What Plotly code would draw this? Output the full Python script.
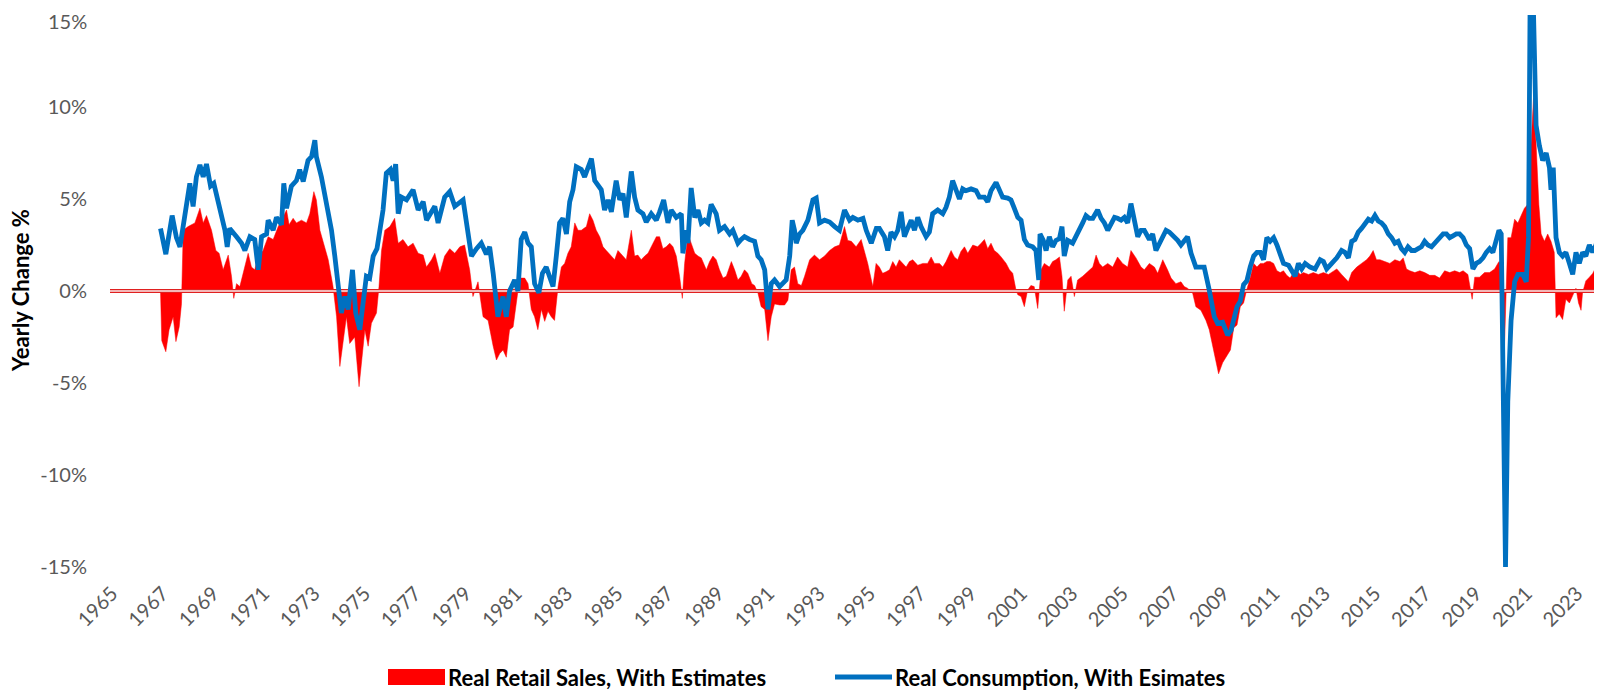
import plotly.graph_objects as go

# ---------------- data ----------------
cons_year = [
    1967.00, 1967.21, 1967.46, 1967.63, 1967.77, 1967.96, 1968.16, 1968.29, 1968.42, 1968.56,
    1968.69, 1968.82, 1968.98, 1969.11, 1969.35, 1969.55, 1969.64, 1969.74, 1970.01, 1970.21,
    1970.34, 1970.54, 1970.73, 1970.87, 1971.00, 1971.20, 1971.26, 1971.46, 1971.59, 1971.79,
    1971.88, 1971.99, 1972.18, 1972.38, 1972.51, 1972.65, 1972.84, 1972.98, 1973.11, 1973.17,
    1973.37, 1973.57, 1973.77, 1973.90, 1974.03, 1974.16, 1974.30, 1974.43, 1974.60, 1974.73,
    1974.89, 1975.02, 1975.15, 1975.28, 1975.42, 1975.57, 1975.68, 1975.81, 1975.94, 1976.10,
    1976.21, 1976.31, 1976.41, 1976.54, 1976.74, 1977.00, 1977.20, 1977.40, 1977.53, 1977.86,
    1977.99, 1978.25, 1978.45, 1978.65, 1978.98, 1979.11, 1979.31, 1979.51, 1979.70, 1979.90,
    1980.03, 1980.17, 1980.36, 1980.56, 1980.69, 1980.82, 1981.02, 1981.15, 1981.28, 1981.42,
    1981.55, 1981.68, 1981.81, 1981.98, 1982.12, 1982.27, 1982.41, 1982.54, 1982.67, 1982.80,
    1982.93, 1983.07, 1983.20, 1983.33, 1983.46, 1983.66, 1983.79, 1983.92, 1984.06, 1984.19,
    1984.32, 1984.45, 1984.58, 1984.72, 1984.85, 1985.04, 1985.18, 1985.31, 1985.44, 1985.64,
    1985.77, 1985.90, 1986.10, 1986.23, 1986.43, 1986.63, 1986.76, 1986.92, 1987.09, 1987.22,
    1987.42, 1987.62, 1987.68, 1987.82, 1987.88, 1988.01, 1988.15, 1988.28, 1988.41, 1988.54,
    1988.67, 1988.80, 1989.00, 1989.13, 1989.33, 1989.53, 1989.66, 1989.86, 1989.99, 1990.12,
    1990.32, 1990.52, 1990.65, 1990.78, 1990.92, 1991.05, 1991.18, 1991.31, 1991.51, 1991.64,
    1991.77, 1991.91, 1992.01, 1992.10, 1992.17, 1992.30, 1992.43, 1992.63, 1992.83, 1992.96,
    1993.09, 1993.29, 1993.49, 1993.69, 1993.88, 1994.08, 1994.28, 1994.41, 1994.61, 1994.81,
    1994.94, 1995.14, 1995.34, 1995.46, 1995.66, 1995.79, 1995.92, 1996.06, 1996.19, 1996.32,
    1996.45, 1996.58, 1996.72, 1996.85, 1996.98, 1997.11, 1997.31, 1997.44, 1997.57, 1997.77,
    1997.97, 1998.10, 1998.23, 1998.36, 1998.50, 1998.63, 1998.76, 1998.89, 1999.09, 1999.29,
    1999.42, 1999.62, 1999.75, 1999.88, 2000.08, 2000.21, 2000.34, 2000.54, 2000.67, 2000.80,
    2000.94, 2001.07, 2001.20, 2001.33, 2001.53, 2001.66, 2001.77, 2001.82, 2001.95, 2002.06,
    2002.19, 2002.32, 2002.45, 2002.59, 2002.69, 2002.78, 2002.92, 2003.11, 2003.25, 2003.38,
    2003.51, 2003.64, 2003.77, 2003.91, 2004.10, 2004.24, 2004.37, 2004.50, 2004.63, 2004.77,
    2004.89, 2005.03, 2005.16, 2005.29, 2005.42, 2005.55, 2005.69, 2005.82, 2005.95, 2006.15,
    2006.28, 2006.41, 2006.54, 2006.68, 2006.81, 2006.94, 2007.14, 2007.27, 2007.40, 2007.53,
    2007.66, 2007.80, 2007.99, 2008.13, 2008.32, 2008.52, 2008.72, 2008.85, 2009.05, 2009.25,
    2009.38, 2009.62, 2009.75, 2009.88, 2010.01, 2010.14, 2010.28, 2010.41, 2010.54, 2010.67,
    2010.80, 2010.93, 2011.07, 2011.20, 2011.33, 2011.46, 2011.66, 2011.79, 2011.92, 2012.05,
    2012.18, 2012.32, 2012.51, 2012.71, 2012.91, 2013.04, 2013.17, 2013.37, 2013.57, 2013.76,
    2013.89, 2014.03, 2014.16, 2014.29, 2014.42, 2014.55, 2014.68, 2014.82, 2014.95, 2015.08,
    2015.21, 2015.34, 2015.47, 2015.61, 2015.74, 2015.87, 2016.00, 2016.13, 2016.26, 2016.39,
    2016.53, 2016.66, 2016.79, 2016.92, 2017.05, 2017.18, 2017.32, 2017.45, 2017.64, 2017.78,
    2017.91, 2018.04, 2018.17, 2018.30, 2018.43, 2018.57, 2018.70, 2018.83, 2018.96, 2019.09,
    2019.22, 2019.36, 2019.49, 2019.62, 2019.75, 2019.88, 2019.99, 2020.08, 2020.14, 2020.25,
    2020.34, 2020.47, 2020.61, 2020.74, 2020.93, 2021.07, 2021.16, 2021.22, 2021.36, 2021.46,
    2021.59, 2021.72, 2021.86, 2021.99, 2022.05, 2022.14, 2022.25, 2022.38, 2022.51, 2022.64,
    2022.78, 2022.91, 2023.04, 2023.17, 2023.30, 2023.43, 2023.57, 2023.70, 2023.83, 2023.96,
    2024.07,
]
cons_pct = [
    3.4, 2.0, 4.1, 2.9, 2.4, 3.9, 5.85, 4.6, 6.2, 6.85,
    6.2, 6.9, 5.7, 5.85, 4.4, 3.3, 2.4, 3.4, 2.95, 2.6,
    2.2, 2.95, 2.8, 1.15, 2.95, 3.1, 3.85, 3.3, 4.0, 3.6,
    5.85, 4.5, 5.7, 6.0, 6.6, 5.95, 7.1, 7.3, 8.2, 7.3,
    6.2, 4.9, 3.3, 1.9, 0.24, -1.2, -0.3, -1.0, 1.15, -1.2,
    -2.1, -0.5, 0.8, 0.7, 1.9, 2.3, 3.5, 4.4, 6.4, 6.6,
    6.0, 6.9, 4.2, 5.1, 4.95, 5.5, 4.4, 4.85, 3.85, 4.6,
    3.7, 5.1, 5.4, 4.6, 4.95, 3.85, 1.9, 2.3, 2.6, 2.0,
    2.4, 0.96, -1.4, -0.3, -1.4, 0.0, 0.6, 0.0, 2.8, 3.2,
    2.6, 2.4, 0.4, -0.1, 0.96, 1.3, 0.8, 0.24, 1.9, 3.7,
    3.95, 3.1, 4.85, 5.5, 6.75, 6.6, 6.2, 6.75, 7.2, 6.0,
    5.75, 5.5, 4.4, 4.95, 4.3, 6.0, 4.95, 5.3, 4.0, 6.5,
    5.1, 4.4, 4.2, 3.75, 4.2, 3.85, 4.3, 4.95, 3.7, 4.4,
    4.0, 4.2, 2.05, 3.3, 2.6, 5.6, 4.0, 4.4, 3.7, 3.85,
    3.7, 4.7, 4.2, 3.3, 3.5, 3.1, 3.3, 2.6, 2.8, 2.95,
    2.8, 2.7, 1.9, 1.7, 1.15, -1.0, 0.4, 0.6, 0.24, 0.4,
    0.6, 1.9, 3.85, 3.3, 2.6, 3.1, 3.3, 3.85, 4.95, 5.05,
    3.7, 3.85, 3.75, 3.5, 3.3, 4.4, 3.85, 4.0, 3.85, 3.95,
    3.3, 2.6, 3.4, 3.4, 2.95, 2.2, 3.2, 2.95, 3.3, 4.3,
    2.95, 3.4, 3.85, 3.3, 4.0, 3.5, 2.95, 3.2, 4.2, 4.4,
    4.2, 4.55, 5.1, 6.0, 5.55, 5.0, 5.55, 5.45, 5.55, 5.45,
    5.1, 5.1, 4.85, 5.45, 5.9, 5.5, 5.1, 5.05, 4.95, 4.5,
    4.0, 3.85, 2.8, 2.5, 2.4, 2.2, 0.6, 3.1, 2.75, 2.2,
    2.95, 2.4, 2.75, 2.85, 3.5, 1.9, 2.75, 2.6, 2.95, 3.3,
    3.7, 4.1, 3.95, 3.95, 4.4, 3.95, 3.7, 3.3, 3.7, 4.0,
    3.95, 3.85, 4.0, 3.7, 4.75, 3.85, 2.95, 3.3, 3.3, 2.8,
    3.1, 2.2, 2.6, 2.95, 3.3, 3.2, 2.95, 2.75, 2.5, 2.75,
    2.95, 2.05, 1.3, 1.3, 1.3, 0.05, -1.4, -1.75, -1.7, -2.4,
    -2.15, -0.85, -0.55, 0.35, 0.55, 1.3, 1.9, 2.1, 2.1, 1.7,
    2.9, 2.7, 2.9, 2.5, 1.9, 1.5, 1.4, 1.1, 0.8, 1.5,
    1.2, 1.5, 1.3, 1.2, 1.7, 1.6, 1.2, 1.5, 1.8, 2.2,
    2.1, 1.8, 2.7, 2.8, 3.2, 3.4, 3.6, 3.9, 3.8, 4.1,
    3.8, 3.7, 3.5, 3.1, 2.9, 2.6, 2.7, 2.3, 2.1, 2.4,
    2.2, 2.2, 2.3, 2.4, 2.7, 2.5, 2.4, 2.6, 2.9, 3.1,
    3.1, 2.9, 3.0, 3.1, 3.1, 2.9, 2.5, 2.3, 1.2, 1.5,
    1.6, 1.8, 2.1, 2.3, 2.1, 2.7, 3.3, 3.1, -2.0, -15.0,
    -6.0, -1.6, 0.5, 0.9, 0.9, 0.5, 2.9, 15.0, 15.0, 9.0,
    7.9, 7.1, 7.5, 6.7, 5.5, 6.7, 2.9, 2.1, 1.9, 2.1,
    1.5, 0.9, 2.1, 1.5, 2.1, 1.9, 2.5, 2.1, 2.5, 3.1,
    3.3,
]

retail_year = [
    1967.00, 1967.05, 1967.21, 1967.34, 1967.50, 1967.61, 1967.74, 1967.83, 1967.90, 1968.09,
    1968.36, 1968.56, 1968.69, 1968.82, 1969.02, 1969.19, 1969.32, 1969.48, 1969.68, 1969.81,
    1969.90, 1970.01, 1970.14, 1970.27, 1970.47, 1970.60, 1970.73, 1970.87, 1971.06, 1971.26,
    1971.46, 1971.66, 1971.85, 1971.99, 1972.09, 1972.25, 1972.38, 1972.58, 1972.78, 1972.91,
    1973.07, 1973.17, 1973.31, 1973.50, 1973.64, 1973.83, 1973.97, 1974.10, 1974.23, 1974.36,
    1974.49, 1974.69, 1974.86, 1974.96, 1975.09, 1975.22, 1975.35, 1975.55, 1975.65, 1975.75,
    1975.88, 1976.08, 1976.27, 1976.41, 1976.60, 1976.80, 1977.00, 1977.20, 1977.40, 1977.53,
    1977.73, 1977.86, 1978.06, 1978.25, 1978.45, 1978.65, 1978.85, 1979.04, 1979.24, 1979.37,
    1979.57, 1979.77, 1979.97, 1980.17, 1980.30, 1980.43, 1980.56, 1980.69, 1980.82, 1980.96,
    1981.09, 1981.22, 1981.42, 1981.55, 1981.68, 1981.81, 1981.94, 1982.08, 1982.21, 1982.34,
    1982.47, 1982.60, 1982.74, 1982.87, 1983.00, 1983.13, 1983.26, 1983.40, 1983.53, 1983.66,
    1983.86, 1983.99, 1984.12, 1984.25, 1984.39, 1984.52, 1984.65, 1984.85, 1984.98, 1985.11,
    1985.31, 1985.44, 1985.64, 1985.77, 1985.90, 1986.03, 1986.17, 1986.30, 1986.50, 1986.63,
    1986.76, 1986.89, 1987.02, 1987.16, 1987.29, 1987.42, 1987.55, 1987.66, 1987.75, 1987.88,
    1988.01, 1988.15, 1988.28, 1988.41, 1988.61, 1988.74, 1988.87, 1989.00, 1989.13, 1989.27,
    1989.40, 1989.60, 1989.73, 1989.86, 1989.99, 1990.12, 1990.25, 1990.41, 1990.52, 1990.65,
    1990.78, 1990.92, 1991.05, 1991.18, 1991.31, 1991.51, 1991.71, 1991.84, 1991.97, 1992.10,
    1992.23, 1992.37, 1992.50, 1992.70, 1992.89, 1993.09, 1993.29, 1993.49, 1993.69, 1993.88,
    1994.08, 1994.21, 1994.35, 1994.54, 1994.74, 1994.87, 1995.00, 1995.20, 1995.33, 1995.46,
    1995.59, 1995.73, 1995.86, 1995.99, 1996.12, 1996.25, 1996.39, 1996.52, 1996.65, 1996.78,
    1996.98, 1997.18, 1997.37, 1997.51, 1997.64, 1997.84, 1997.97, 1998.10, 1998.30, 1998.43,
    1998.56, 1998.69, 1998.83, 1998.96, 1999.16, 1999.35, 1999.49, 1999.62, 1999.75, 1999.88,
    2000.01, 2000.15, 2000.28, 2000.48, 2000.61, 2000.74, 2000.87, 2000.94, 2001.07, 2001.20,
    2001.33, 2001.46, 2001.59, 2001.73, 2001.86, 2001.99, 2002.19, 2002.32, 2002.45, 2002.59,
    2002.69, 2002.78, 2002.92, 2003.05, 2003.18, 2003.31, 2003.51, 2003.64, 2003.77, 2003.91,
    2004.04, 2004.17, 2004.30, 2004.50, 2004.70, 2004.89, 2005.09, 2005.29, 2005.42, 2005.62,
    2005.82, 2005.95, 2006.15, 2006.35, 2006.48, 2006.68, 2006.87, 2007.01, 2007.20, 2007.40,
    2007.53, 2007.66, 2007.86, 2007.99, 2008.19, 2008.39, 2008.52, 2008.65, 2008.79, 2008.89,
    2009.05, 2009.18, 2009.36, 2009.49, 2009.62, 2009.75, 2009.88, 2010.01, 2010.14, 2010.28,
    2010.41, 2010.54, 2010.67, 2010.80, 2010.93, 2011.07, 2011.20, 2011.33, 2011.46, 2011.59,
    2011.72, 2011.86, 2011.99, 2012.12, 2012.25, 2012.45, 2012.64, 2012.84, 2013.04, 2013.24,
    2013.43, 2013.57, 2013.76, 2013.89, 2014.03, 2014.16, 2014.36, 2014.55, 2014.75, 2014.88,
    2015.01, 2015.14, 2015.28, 2015.47, 2015.67, 2015.87, 2016.07, 2016.20, 2016.33, 2016.46,
    2016.66, 2016.86, 2017.05, 2017.25, 2017.45, 2017.64, 2017.84, 2018.04, 2018.24, 2018.43,
    2018.57, 2018.76, 2018.93, 2019.03, 2019.22, 2019.42, 2019.62, 2019.82, 2019.99, 2020.08,
    2020.14, 2020.21, 2020.34, 2020.47, 2020.61, 2020.74, 2020.87, 2021.00, 2021.13, 2021.26,
    2021.36, 2021.46, 2021.57, 2021.66, 2021.79, 2021.92, 2022.05, 2022.18, 2022.25, 2022.38,
    2022.51, 2022.64, 2022.78, 2022.91, 2023.04, 2023.14, 2023.24, 2023.30, 2023.43, 2023.57,
    2023.70, 2023.83, 2023.96, 2024.07,
]
retail_pct = [
    0.0, -2.7, -3.3, -2.1, -1.4, -2.75, -1.95, -0.7, 3.3, 3.5,
    3.7, 4.5, 3.7, 4.1, 3.3, 2.2, 2.05, 1.15, 1.95, 0.8,
    -0.4, 0.4, 0.24, 0.96, 2.05, 1.3, 1.15, 1.9, 2.2, 2.95,
    2.8, 3.5, 4.0, 4.4, 3.6, 3.95, 3.7, 3.85, 3.7, 4.2,
    5.4, 4.95, 3.3, 2.4, 1.7, 0.24, -1.4, -4.1, -2.85, -1.4,
    -2.85, -2.5, -5.2, -3.9, -2.1, -3.0, -1.75, -1.2, 0.24, 2.2,
    3.3, 3.5, 3.95, 2.6, 2.8, 2.4, 2.6, 2.05, 1.95, 1.3,
    1.7, 2.05, 0.96, 1.9, 2.3, 2.05, 2.4, 2.5, 1.15, -0.3,
    0.5, -1.4, -1.6, -3.0, -3.75, -3.4, -3.2, -3.6, -2.1, -1.95,
    -0.5, 0.7, 0.7, 0.4, -1.0, -1.4, -2.1, -1.0, -1.65, -1.1,
    -1.4, -1.6, 0.24, 1.3, 1.5, 2.05, 2.4, 3.7, 3.3, 3.3,
    3.5, 4.2, 3.85, 3.3, 2.95, 2.4, 2.2, 1.9, 1.7, 2.2,
    1.9, 1.7, 3.3, 1.9, 1.95, 1.7, 1.9, 2.05, 2.6, 2.95,
    2.95, 2.3, 2.4, 2.6, 2.4, 1.9, 0.8, -0.4, 1.5, 3.1,
    2.6, 2.05, 1.9, 1.8, 1.15, 1.6, 1.9, 1.7, 1.15, 0.7,
    0.8, 1.6, 1.15, 0.6, 0.8, 1.15, 0.96, 0.4, 0.3, -0.1,
    -0.85, -1.0, -2.7, -1.4, -0.7, -0.76, -0.76, -0.5, 1.15, 1.3,
    0.4, 0.3, 0.8, 1.7, 1.95, 1.7, 1.9, 2.2, 2.4, 2.5,
    3.5, 2.75, 2.7, 2.4, 2.8, 2.2, 1.5, 0.24, 1.5, 1.3,
    0.96, 1.05, 1.15, 1.6, 1.3, 1.7, 1.5, 1.3, 1.6, 1.7,
    1.4, 1.5, 1.5, 1.85, 1.5, 1.5, 1.3, 1.6, 2.2, 1.85,
    1.7, 2.15, 2.4, 2.05, 2.5, 2.4, 2.6, 2.8, 2.3, 2.6,
    2.2, 2.05, 1.85, 1.5, 1.15, 0.96, 0.05, -0.2, -0.3, -0.85,
    0.05, 0.3, 0.24, -0.95, 1.15, 1.5, 1.3, 1.6, 1.7, 1.85,
    0.8, -1.1, 0.6, 0.8, -0.3, 0.6, 0.8, 0.96, 1.15, 1.3,
    1.95, 1.5, 1.3, 1.5, 1.3, 1.85, 1.5, 1.3, 2.2, 1.8,
    1.3, 1.15, 1.5, 1.3, 0.96, 1.7, 1.15, 0.7, 0.4, 0.5,
    0.24, 0.15, -0.1, -0.85, -1.05, -1.6, -2.1, -3.0, -3.9, -4.5,
    -3.9, -3.6, -3.2, -2.0, -1.85, -0.85, -0.65, 0.1, 0.7, 1.5,
    1.3, 1.5, 1.5, 1.6, 1.6, 1.5, 1.1, 1.0, 1.1, 0.85,
    0.7, 1.0, 1.1, 0.9, 1.0, 0.9, 1.0, 0.9, 1.0, 0.9,
    1.1, 1.2, 0.9, 0.7, 0.5, 1.0, 1.3, 1.5, 1.7, 1.9,
    2.2, 1.7, 1.7, 1.6, 1.5, 1.7, 1.6, 1.8, 1.2, 1.1,
    1.0, 1.1, 1.0, 0.85, 0.85, 0.7, 1.1, 1.0, 1.1, 1.0,
    1.1, 0.9, -0.45, 0.75, 0.75, 1.0, 1.0, 1.2, 1.6, 1.5,
    -1.05, -3.0, 2.9, 2.9, 3.9, 3.7, 4.1, 4.5, 4.7, 8.0,
    10.5, 8.0, 4.7, 3.1, 2.7, 3.1, 2.7, 2.1, -1.45, -1.25,
    -1.55, -0.45, -0.65, -0.25, 0.15, -0.65, -1.05, -0.1, 0.55, 0.75,
    0.95, 1.3, 1.5, 1.5,
]

year_ticks = list(range(1965, 2024, 2))
year_labels = [str(y) for y in year_ticks]
pct_ticks = [-15, -10, -5, 0, 5, 10, 15]
pct_labels = [f"{v}%" for v in pct_ticks]

retail_name = "Real Retail Sales, With Estimates"
cons_name = "Real Consumption, With Esimates"

X_RANGE = [1965, 2024.07]
Y_RANGE = [pct_ticks[0], pct_ticks[-1]]
RED = "#FF0000"
BLUE = "#0070C0"
GRAY = "#595959"
FONT = "Lato"

# The page body adds an 8px offset; the figure is sized to fill the rest of the window.
OFF = 8
FIG_W, FIG_H = 1602 - OFF, 690 - OFF
# plot area in page pixels
PL, PR, PT, PB = 110, 1602, 15, 567
def px_x(px):
    return (px - PL) / (PR - PL)
def px_y(py):
    return (PB - py) / (PB - PT)

fig = go.Figure()

fig.add_trace(go.Scatter(
    x=retail_year, y=retail_pct, name=retail_name, mode="lines", showlegend=False,
    line=dict(color=RED, width=0.5), fill="tozeroy", fillcolor=RED,
))
# double-ruled zero axis line (red edges, pale centre)
fig.add_trace(go.Scatter(x=X_RANGE, y=[0, 0], mode="lines", showlegend=False,
                         hoverinfo="skip", line=dict(color="#E02020", width=4)))
fig.add_trace(go.Scatter(x=X_RANGE, y=[0, 0], mode="lines", showlegend=False,
                         hoverinfo="skip", line=dict(color="#FBEAEA", width=1.6)))
fig.add_trace(go.Scatter(
    x=cons_year, y=cons_pct, name=cons_name, mode="lines", showlegend=False,
    line=dict(color=BLUE, width=4.8),
))

legend_y = px_y(677)
shapes = [
    dict(type="rect", xref="paper", yref="paper",
         x0=px_x(388), x1=px_x(445), y0=px_y(685), y1=px_y(669),
         fillcolor=RED, line=dict(width=0)),
    dict(type="line", xref="paper", yref="paper",
         x0=px_x(835), x1=px_x(892), y0=legend_y, y1=legend_y,
         line=dict(color=BLUE, width=5)),
]
annotations = [
    # top tick label drawn as an annotation so it stays inside the page
    dict(text=pct_labels[-1], xref="paper", yref="paper",
         x=px_x(88), y=px_y(OFF), xanchor="right", yanchor="top", showarrow=False,
         font=dict(family=FONT, size=20, color=GRAY), borderpad=0),
    dict(text="Yearly Change %", xref="paper", yref="paper",
         x=px_x(20), y=px_y(291), xanchor="center", yanchor="middle", textangle=-90,
         showarrow=False, font=dict(family=FONT, size=22, color="black", weight="bold")),
    dict(text=retail_name, xref="paper", yref="paper", x=px_x(446), y=legend_y,
         xanchor="left", yanchor="middle", showarrow=False,
         font=dict(family=FONT, size=22, color="black", weight="bold")),
    dict(text=cons_name, xref="paper", yref="paper", x=px_x(893), y=legend_y,
         xanchor="left", yanchor="middle", showarrow=False,
         font=dict(family=FONT, size=22, color="black", weight="bold")),
]

fig.update_layout(
    width=FIG_W, height=FIG_H,
    margin=dict(l=PL - OFF, r=0, t=PT - OFF, b=FIG_H - (PB - OFF), autoexpand=False),
    paper_bgcolor="white", plot_bgcolor="white",
    font=dict(family=FONT, color=GRAY),
    showlegend=False,
    xaxis=dict(
        range=X_RANGE, tickmode="array", tickvals=year_ticks, ticktext=year_labels,
        tickangle=-45, showgrid=False, zeroline=False, showline=False, ticks="",
        tickfont=dict(family=FONT, size=20, color=GRAY),
        ticklabelshift=2, ticklabelstandoff=10, automargin=False,
        ticklabeloverflow="allow",
    ),
    xaxis2=dict(
        range=X_RANGE, overlaying="x", anchor="free", position=0.5, side="bottom",
        tickmode="array", tickvals=year_ticks, showticklabels=False,
        ticks="outside", ticklen=5, tickwidth=1, tickcolor="#E6D4D4",
        showgrid=False, zeroline=False, showline=False, automargin=False,
    ),
    yaxis=dict(
        range=Y_RANGE, tickmode="array", tickvals=pct_ticks[:-1], ticktext=pct_labels[:-1],
        showgrid=False, zeroline=False, showline=False, ticks="",
        tickfont=dict(family=FONT, size=20, color=GRAY),
        ticklabelstandoff=22, automargin=False,
    ),
    shapes=shapes,
    annotations=annotations,
)

fig.write_html("out.html")
